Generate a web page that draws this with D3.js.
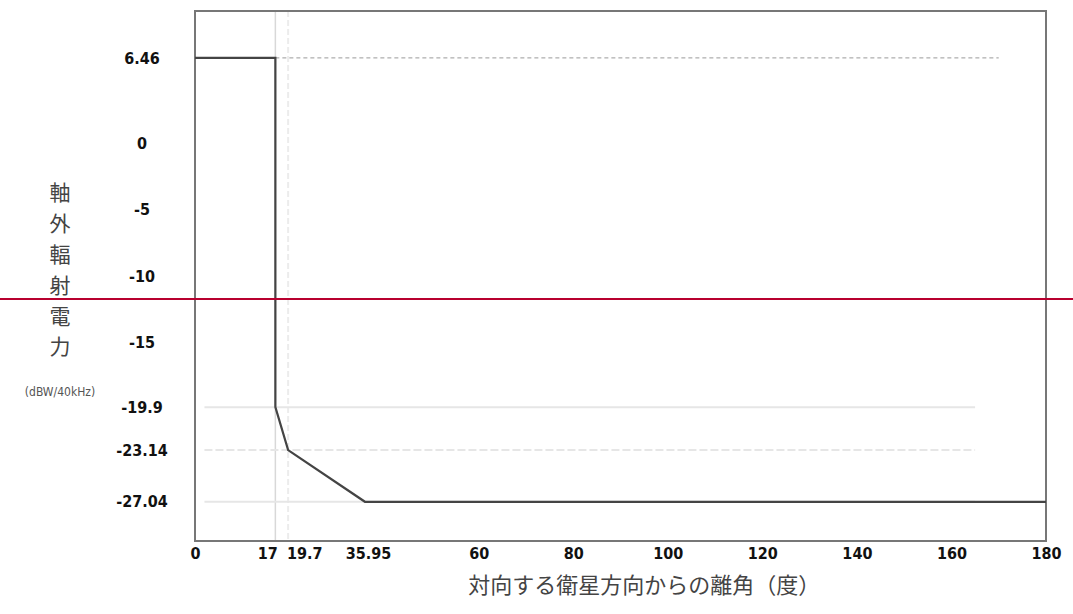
<!DOCTYPE html>
<html>
<head>
<meta charset="utf-8">
<script src="https://cdn.jsdelivr.net/npm/d3@7"></script>
<style>
  body { margin: 0; background: #fff; }
  svg { display: block; }
</style>
</head>
<body>
<svg id="drawing_region"></svg>
<script>
// profile corners (deg, dBW/40kHz)
const angles = [0, 17, 17, 19.7, 35.95, 180];
const powers = [6.46, 6.46, -19.9, -23.14, -27.04, -27.04];

const xTicks = [0, 17, 19.7, 35.95, 60, 80, 100, 120, 140, 160, 180];
const yTicks = [6.46, 0, -5, -10, -15, -19.9, -23.14, -27.04];
const yTitle = ['軸', '外', '輻', '射', '電', '力'];
const yUnit = '(dBW/40kHz)';
const xTitle = '対向する衛星方向からの離角（度）';
const markerLevel = -11.73;

const config = {
    width: 1073,
    height: 614,
    margin: {top: 11, right: 27, bottom: 73, left: 195}
};

const inner_width = config.width - config.margin.left - config.margin.right;
const inner_height = config.height - config.margin.top - config.margin.bottom;

const svg = d3.select('#drawing_region')
    .attr('width', config.width)
    .attr('height', config.height);

const chart = svg.append('g')
    .attr('transform', `translate(${config.margin.left}, ${config.margin.top})`);

const xscale = d3.scaleLinear().domain([0, 180]).range([0, inner_width]);
const yscale = d3.scaleLinear().domain([-30, 10]).range([inner_height, 0]);

const labelFont = '"DejaVu Sans Condensed", "DejaVu Sans", sans-serif';

// faint guide lines
chart.append('line')
    .attr('x1', xscale(17)).attr('x2', xscale(17))
    .attr('y1', 0).attr('y2', inner_height)
    .attr('stroke', '#d8d8d8').attr('stroke-width', 1.5);
chart.append('line')
    .attr('x1', xscale(19.7)).attr('x2', xscale(19.7))
    .attr('y1', 0).attr('y2', inner_height)
    .attr('stroke', '#ececec').attr('stroke-width', 2)
    .attr('stroke-dasharray', '6,3');

chart.append('line')
    .attr('x1', xscale(17)).attr('x2', xscale(170))
    .attr('y1', yscale(6.46)).attr('y2', yscale(6.46))
    .attr('stroke', '#999').attr('stroke-width', 1)
    .attr('stroke-dasharray', '4,3');

[-19.9, -23.14, -27.04].forEach(v => {
    chart.append('line')
        .attr('x1', xscale(2)).attr('x2', xscale(165))
        .attr('y1', yscale(v)).attr('y2', yscale(v))
        .attr('stroke', '#e6e6e6').attr('stroke-width', 2)
        .attr('stroke-dasharray', v === -23.14 ? '8,3' : null);
});

// frame
chart.append('rect')
    .attr('x', 0).attr('y', 0)
    .attr('width', inner_width).attr('height', inner_height)
    .attr('fill', 'none')
    .attr('stroke', '#777').attr('stroke-width', 2);

// data line
const pts = angles.map((a, i) => [a, powers[i]]);
chart.append('path')
    .datum(pts)
    .attr('fill', 'none')
    .attr('stroke', '#444')
    .attr('stroke-width', 2.2)
    .attr('d', d3.line().x(d => xscale(d[0])).y(d => yscale(d[1])));

// axes (labels only)
const xLabelShift = {17: -8, 19.7: 16, 35.95: 3};
const xaxis = d3.axisBottom(xscale)
    .tickValues(xTicks)
    .tickFormat(d => String(d))
    .tickSize(0)
    .tickPadding(7);
const xaxis_group = chart.append('g')
    .attr('transform', `translate(0, ${inner_height})`)
    .call(xaxis);
xaxis_group.select('.domain').remove();
xaxis_group.selectAll('text')
    .attr('dx', d => xLabelShift[d] || 0)
    .attr('font-family', labelFont)
    .attr('font-stretch', 'condensed')
    .attr('font-size', 16)
    .attr('font-weight', 'bold')
    .attr('fill', '#111');

const yaxis = d3.axisLeft(yscale)
    .tickValues(yTicks)
    .tickFormat(d => String(d))
    .tickSize(0)
    .tickPadding(0);
const yaxis_group = chart.append('g').call(yaxis);
yaxis_group.select('.domain').remove();
yaxis_group.selectAll('text')
    .attr('x', -53)
    .attr('text-anchor', 'middle')
    .attr('font-family', labelFont)
    .attr('font-stretch', 'condensed')
    .attr('font-size', 16)
    .attr('font-weight', 'bold')
    .attr('fill', '#111');

// titles
svg.append('g')
    .selectAll('text')
    .data(yTitle)
    .join('text')
    .attr('x', 60)
    .attr('y', (d, i) => 193 + i * 30.8)
    .attr('dy', '0.35em')
    .attr('text-anchor', 'middle')
    .attr('font-family', '"Noto Sans CJK JP", sans-serif')
    .attr('font-size', 21)
    .attr('fill', '#444')
    .text(d => d);

svg.append('text')
    .attr('x', 60)
    .attr('y', 392)
    .attr('dy', '0.35em')
    .attr('text-anchor', 'middle')
    .attr('font-family', labelFont)
    .attr('font-stretch', 'condensed')
    .attr('font-size', 12)
    .attr('fill', '#555')
    .text(yUnit);

svg.append('text')
    .attr('x', config.margin.left + xscale(95))
    .attr('y', 585)
    .attr('dy', '0.35em')
    .attr('text-anchor', 'middle')
    .attr('font-family', '"Noto Sans CJK JP", sans-serif')
    .attr('font-size', 22)
    .attr('fill', '#444')
    .text(xTitle);

// red marker line across the whole picture
svg.append('line')
    .attr('x1', 0).attr('x2', config.width)
    .attr('y1', config.margin.top + yscale(markerLevel))
    .attr('y2', config.margin.top + yscale(markerLevel))
    .attr('stroke', '#b8002f')
    .attr('stroke-width', 2);
</script>
</body>
</html>
